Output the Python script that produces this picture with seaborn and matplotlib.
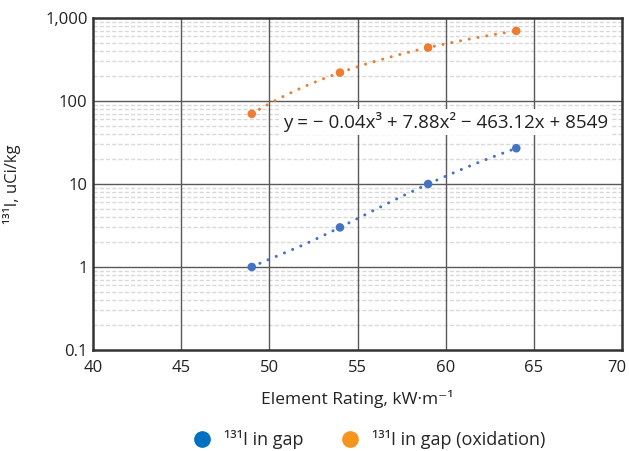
import numpy as np
import pandas as pd
import matplotlib
matplotlib.use("Agg")
import matplotlib.pyplot as plt
import matplotlib.transforms as mtransforms
import seaborn as sns
from matplotlib.lines import Line2D
from matplotlib.ticker import FixedLocator, LogLocator, NullFormatter

# ---- data ----
rating = [49, 54, 59, 64]
gap = [1, 3, 10, 27]
gap_ox = [70, 220, 440, 700]
x_ticks = [40, 45, 50, 55, 60, 65, 70]
y_ticks = [0.1, 1, 10, 100, 1000]
y_tick_labels = ["0.1", "1", "10", "100", "1,000"]
equation = "y = \u2212 0.04x\u00b3 + 7.88x\u00b2 \u2212 463.12x + 8549"
series_names = ["\u00b9\u00b3\u00b9I in gap", "\u00b9\u00b3\u00b9I in gap (oxidation)"]

sns.set_style("white")
plt.rcParams["font.family"] = ["Open Sans", "DejaVu Sans"]

c_blue = "#4472C4"
c_orange = "#ED7D31"
txt = "#222222"

fig = plt.figure(figsize=(6.29, 4.51), dpi=100)
ax = fig.add_axes([0.148, 0.224, 0.841, 0.736])
ax.set_yscale("log")
ax.set_xlim(40, 70)
ax.set_ylim(0.1, 1000)

# gridlines: minor (light dashed) below major (dark solid)
minor_pos = [v for v in LogLocator(base=10, subs=np.arange(2, 10)).tick_values(0.1, 1000)
             if 0.1 < v < 1000]
for v in minor_pos:
    ax.axhline(v, color="#D9D9D9", lw=1.0, linestyle=(0, (3, 1.5)), zorder=0.5)
for v in y_ticks[1:-1]:
    ax.axhline(v, color="#595959", lw=1.0, zorder=1)
for v in x_ticks[1:-1]:
    ax.axvline(v, color="#595959", lw=1.0, zorder=1)

df = pd.DataFrame({"x": rating * 2, "y": gap + gap_ox,
                   "s": [series_names[0]] * 4 + [series_names[1]] * 4})

# trendlines (3rd-order polynomial fits)
xs = np.linspace(min(rating), max(rating), 200)
for vals, col in [(gap, c_blue), (gap_ox, c_orange)]:
    coef = np.polyfit(rating, vals, 3)
    ys = np.polyval(coef, xs)
    sns.lineplot(x=xs, y=ys, ax=ax, color=col, lw=2.2,
                 linestyle=(0, (0.01, 2.9)), dash_capstyle="round",
                 zorder=3)

sns.scatterplot(data=df, x="x", y="y", hue="s",
                palette=[c_blue, c_orange], s=38, edgecolor="none",
                ax=ax, legend=False, zorder=4)

ax.xaxis.set_major_locator(FixedLocator(x_ticks))
ax.set_xticklabels([str(t) for t in x_ticks])
ax.yaxis.set_major_locator(FixedLocator(y_ticks))
ax.set_yticklabels(y_tick_labels)
ax.yaxis.set_minor_locator(FixedLocator(minor_pos))
ax.yaxis.set_minor_formatter(NullFormatter())
ax.grid(False)

for sp in ax.spines.values():
    sp.set_color("#333333")
    sp.set_linewidth(1.8)
    sp.set_zorder(6)
ax.tick_params(axis="both", which="both", length=0, labelsize=12,
               colors=txt, pad=4)
ax.tick_params(axis="x", pad=7)

# nudge the last x tick label so it stays inside the figure
last = ax.get_xticklabels()[-1]
last.set_transform(last.get_transform() +
                   mtransforms.ScaledTranslation(-4 / 72, 0, fig.dpi_scale_trans))

ax.set_xlabel("Element Rating, kW\u00b7m\u207b\u00b9", fontsize=12.5,
              color=txt, labelpad=10)
ax.set_ylabel("\u00b9\u00b3\u00b9I, uCi/kg", fontsize=12, color=txt)
ax.yaxis.set_label_coords(-0.136, 0.5)

ax.text(50.75, 56, equation, fontsize=13.5, color=txt,
        ha="left", va="center", zorder=5,
        bbox=dict(facecolor="white", edgecolor="none", pad=2))

handles = [Line2D([], [], marker="o", ls="none", color="#0070C0", ms=11),
           Line2D([], [], marker="o", ls="none", color="#F7941D", ms=11)]
fig.legend(handles, series_names, loc="center", bbox_to_anchor=(0.58, 0.025),
           ncol=2, frameon=False, fontsize=13, handletextpad=0.2,
           columnspacing=1.6)

fig.savefig("out.png", dpi=100)
